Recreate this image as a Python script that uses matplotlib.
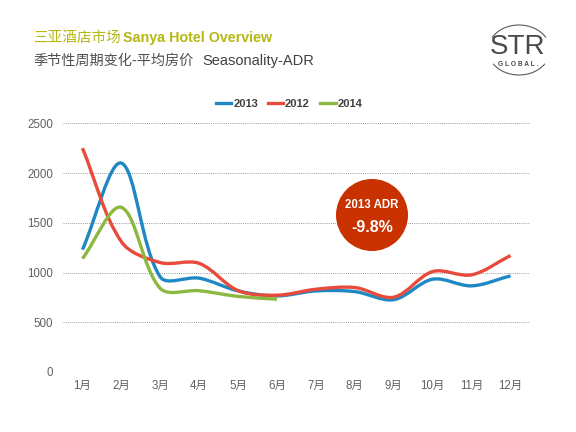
import matplotlib
matplotlib.use("Agg")
import matplotlib.pyplot as plt
import numpy as np
from matplotlib.path import Path
from matplotlib.patches import PathPatch, Circle, Arc
from matplotlib.lines import Line2D

plt.rcParams['font.family'] = ['Liberation Sans', 'Noto Sans CJK SC', 'DejaVu Sans']

months = ["1月", "2月", "3月", "4月", "5月", "6月", "7月", "8月", "9月", "10月", "11月", "12月"]
adr_2013 = [1230, 2100, 955, 943, 815, 765, 815, 808, 727, 933, 866, 967]
adr_2012 = [2250, 1310, 1100, 1092, 818, 772, 832, 849, 752, 1010, 977, 1171]
adr_2014 = [1140, 1655, 840, 817, 760, 732]
yticks = [0, 500, 1000, 1500, 2000, 2500]

c2013 = "#1F88C4"
c2012 = "#E84A3B"
c2014 = "#8DB840"

fig = plt.figure(figsize=(5.76, 4.32), dpi=100)
ax = fig.add_axes([63 / 576, 1 - 372 / 432, 467 / 576, (372 - 123.3) / 432])
ax.set_xlim(-0.5, 11.5)
ax.set_ylim(0, 2500)


def smooth_path(vals):
    # Excel-like smoothed line: cubic Bezier with chord-length weighted tangents (screen space)
    pts = np.array([(float(i), float(v)) for i, v in enumerate(vals)])
    scr = ax.transData.transform(pts)
    n = len(pts)
    d = [np.hypot(*(scr[i + 1] - scr[i])) for i in range(n - 1)]
    verts = [tuple(pts[0])]
    codes = [Path.MOVETO]
    for i in range(n - 1):
        p1, p2 = scr[i], scr[i + 1]
        if i > 0:
            w = d[i] / (d[i - 1] + d[i])
            c1 = p1 + (scr[i + 1] - scr[i - 1]) * w / 3
        else:
            c1 = p1 + (p2 - p1) / 3
        if i + 2 < n:
            w = d[i] / (d[i] + d[i + 1])
            c2 = p2 - (scr[i + 2] - scr[i]) * w / 3
        else:
            c2 = p2 - (p2 - p1) / 3
        cd = ax.transData.inverted().transform(np.array([c1, c2]))
        verts += [tuple(cd[0]), tuple(cd[1]), tuple(pts[i + 1])]
        codes += [Path.CURVE4] * 3
    return Path(verts, codes)


for vals, col, z in [(adr_2013, c2013, 3), (adr_2012, c2012, 4), (adr_2014, c2014, 5)]:
    ax.add_patch(PathPatch(smooth_path(vals), facecolor='none', edgecolor=col,
                           lw=2.4, capstyle='butt', zorder=z))

ax.set_yticks(yticks)
ax.set_xticks(range(len(months)))
ax.set_xticklabels(months)
for s in ax.spines.values():
    s.set_visible(False)
ax.tick_params(axis='both', length=0, labelsize=8.3, labelcolor='#606060')
ax.tick_params(axis='x', pad=6)
ax.tick_params(axis='y', pad=7)
ax.yaxis.grid(True, linestyle=(0, (1, 1.2)), color='#9A9A9A', lw=0.7)
ax.set_axisbelow(True)

# Legend
handles = [Line2D([], [], color=c, lw=2.4) for c in (c2013, c2012, c2014)]
leg = fig.legend(handles, ["2013", "2012", "2014"], loc='center', bbox_to_anchor=(289 / 576, 1 - 104 / 432),
                 ncol=3, frameon=False, handlelength=1.4, handletextpad=0.15, columnspacing=0.9,
                 prop={'size': 8, 'weight': 'bold'})
for t in leg.get_texts():
    t.set_color('#404040')

# Titles
fig.canvas.draw()
r = fig.canvas.get_renderer()
t1 = fig.text(33 / 576, 1 - 38 / 432, "三亚酒店市场", color='#B5B814', fontsize=10.5,
              family=['Noto Sans CJK SC'], va='center', ha='left')
bb = t1.get_window_extent(renderer=r)
fig.text(bb.x1 / fig.bbox.width + 2 / 576, 1 - 38 / 432, "Sanya Hotel Overview", color='#B5B814',
         fontsize=10.3, weight='bold', va='center', ha='left')
t2 = fig.text(33 / 576, 1 - 61 / 432, "季节性周期变化-平均房价", color='#505050',
              fontsize=10.2, va='center', ha='left', family=['Noto Sans CJK SC'])
bb2 = t2.get_window_extent(renderer=r)
fig.text(bb2.x1 / fig.bbox.width + 9 / 576, 1 - 61 / 432, "Seasonality-ADR", color='#404040',
         fontsize=10.5, va='center', ha='left')

# Circle annotation and logo (pixel-based overlay)
fig_ax = fig.add_axes([0, 0, 1, 1], facecolor='none')
fig_ax.set_xlim(0, 576)
fig_ax.set_ylim(432, 0)
fig_ax.axis('off')
fig_ax.add_patch(Circle((372, 215), 36, facecolor='#C93200', edgecolor='none', zorder=10))
fig_ax.text(372, 205, "2013 ADR", color='white', fontsize=8.3, weight='bold', ha='center', va='center',
            zorder=11)
fig_ax.text(372, 227, "-9.8%", color='white', fontsize=11.5, weight='bold', ha='center', va='center',
            zorder=11)

fig_ax.text(518, 47, "STR", color='#4A4A4A', fontsize=20, ha='center', va='center',
            family=['Liberation Sans'])
fig_ax.text(518, 64, "G L O B A L .", color='#4A4A4A', fontsize=4.8, weight='bold', ha='center',
            va='center')
fig_ax.add_patch(Arc((519, 50), 62, 50, theta1=205, theta2=335, color='#5A5A5A', lw=0.8))
fig_ax.add_patch(Arc((519, 50), 62, 50, theta1=28, theta2=152, color='#5A5A5A', lw=0.8))

fig.savefig("out.png", dpi=100, facecolor='white')
